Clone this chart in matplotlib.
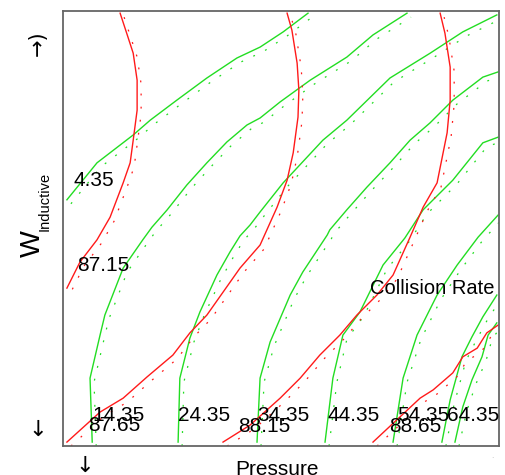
import matplotlib
matplotlib.use("Agg")
import matplotlib.pyplot as plt
from matplotlib.transforms import offset_copy

plt.rcParams['font.family'] = ['Liberation Sans', 'DejaVu Sans']

# ---- data (Pressure on x, W_Inductive on y, both 0..100) ----
# green contours (labelled levels)
g_levels = ["4.35", "14.35", "24.35", "34.35", "44.35", "54.35", "64.35", "74.35"]
g435_x = [0.9, 7.8, 16.1, 20.0, 26.1, 33.0, 39.9, 45.2, 50.5, 56.2]
g435_y = [56.6, 65.1, 71.5, 74.9, 79.5, 84.6, 89.2, 91.7, 95.2, 99.5]
g1435_x = [6.7, 6.2, 8.5, 9.6, 13.8, 18.3, 20.4, 23.9, 28.4, 33.0, 37.6, 42.2, 45.2, 49.8, 56.7, 65.1, 71.1, 78.9]
g1435_y = [0.9, 15.6, 25.5, 30.1, 40.9, 47.4, 50.3, 54.3, 60.0, 65.1, 69.9, 73.8, 75.4, 79.1, 84.1, 89.4, 94.5, 99.5]
g2435_x = [26.4, 26.8, 29.1, 31.4, 35.3, 38.3, 40.6, 42.9, 45.2, 50.5, 59.6, 65.1, 75.0, 84.2, 91.7, 99.5]
g2435_y = [0.9, 15.6, 24.8, 30.8, 39.3, 44.6, 48.3, 50.8, 53.8, 60.5, 70.3, 74.9, 84.6, 90.3, 95.2, 99.1]
g3435_x = [44.5, 45.2, 47.5, 52.1, 55.0, 60.6, 61.2, 65.1, 69.7, 75.0, 79.6, 84.2, 89.4, 96.3, 99.8]
g3435_y = [0.9, 15.6, 23.9, 34.7, 40.0, 48.5, 49.7, 54.3, 59.5, 65.1, 70.3, 74.3, 79.5, 84.8, 86.0]
g4435_x = [60.1, 61.9, 64.2, 68.1, 73.4, 78.4, 82.6, 89.4, 96.3, 99.8]
g4435_y = [0.9, 15.6, 25.5, 30.8, 41.6, 47.8, 54.3, 61.1, 69.7, 71.0]
g5435_x = [75.7, 78.0, 81.2, 85.8, 90.4, 95.2, 99.8]
g5435_y = [0.9, 15.6, 25.5, 34.7, 41.6, 48.0, 53.1]
g6435_x = [86.9, 88.8, 91.5, 93.8, 96.3, 99.5]
g6435_y = [0.9, 10.6, 20.5, 25.1, 29.7, 34.7]
g7435_x = [89.9, 91.7, 93.8, 96.1, 97.5, 99.5]
g7435_y = [0.9, 9.0, 15.2, 20.5, 25.5, 28.3]

# red contours (Collision Rate)
r_levels = ["87.15", "87.65", "88.15", "88.65"]
r8715_x = [13.1, 14.9, 16.1, 17.0, 17.0, 16.1, 15.4, 13.8, 10.8, 7.8, 3.9, 0.9]
r8715_y = [99.5, 94.0, 90.3, 84.1, 77.2, 70.3, 65.1, 60.5, 52.6, 47.4, 42.3, 36.3]
r8765_x = [0.9, 8.5, 13.8, 19.3, 25.2, 29.1, 33.0, 40.6, 45.2, 49.1, 51.4, 52.8, 53.9, 54.1, 53.7, 52.5, 51.4]
r8765_y = [0.9, 7.8, 11.0, 15.9, 20.9, 26.0, 30.1, 40.9, 46.2, 54.9, 61.1, 67.4, 75.6, 81.8, 88.0, 95.6, 99.5]
r8815_x = [36.7, 42.9, 49.8, 54.4, 58.9, 63.5, 67.4, 72.0, 75.7, 79.6, 82.6, 85.8, 88.1, 88.8, 88.8, 87.6, 86.5]
r8815_y = [0.9, 4.8, 11.0, 15.6, 20.9, 25.5, 30.1, 34.7, 39.3, 48.0, 54.9, 60.5, 72.0, 79.5, 87.1, 94.9, 99.5]
r8865_x = [71.1, 77.3, 81.9, 84.9, 89.4, 91.7, 95.0, 97.2, 99.8]
r8865_y = [0.9, 6.7, 11.0, 12.9, 16.8, 20.5, 22.5, 26.0, 27.8]

# contour label positions (left edge, vertical centre)
g_label_x = [2.3, 6.7, 26.4, 44.5, 60.6, 76.6, 88.1]
g_label_y = [61.1, 7.1, 7.1, 7.1, 7.1, 7.1, 7.1]
r_label_x = [3.2, 5.7, 40.1, 74.8]
r_label_y = [41.6, 4.6, 4.4, 4.4]

green_lines = [(g435_x, g435_y), (g1435_x, g1435_y), (g2435_x, g2435_y), (g3435_x, g3435_y),
               (g4435_x, g4435_y), (g5435_x, g5435_y), (g6435_x, g6435_y), (g7435_x, g7435_y)]
red_lines = [(r8715_x, r8715_y), (r8765_x, r8765_y), (r8815_x, r8815_y), (r8865_x, r8865_y)]

GREEN = '#22dd22'
RED = '#ff1a1a'

fig = plt.figure(figsize=(5.06, 4.75), dpi=100)
ax = fig.add_axes([63 / 506, 29 / 475, 436 / 506, 435 / 475])
ax.set_xlim(0, 100)
ax.set_ylim(0, 100)
ax.set_xticks([])
ax.set_yticks([])
for s in ax.spines.values():
    s.set_color('#666666')
    s.set_linewidth(1.3)

shifted = offset_copy(ax.transData, fig=fig, x=4, y=-4, units='dots')

for xs, ys in green_lines:
    ax.plot(xs, ys, color=GREEN, lw=1.0)
    ax.plot(xs, ys, color=GREEN, lw=0.9, dashes=(1.5, 9), transform=shifted)
for xs, ys in red_lines:
    ax.plot(xs, ys, color=RED, lw=1.0)
    ax.plot(xs, ys, color=RED, lw=0.9, dashes=(1.5, 9), transform=shifted)

for t, x, y in zip(g_levels, g_label_x, g_label_y):
    ax.text(x, y, t, fontsize=15, ha='left', va='center', color='black')
for t, x, y in zip(r_levels, r_label_x, r_label_y):
    ax.text(x, y, t, fontsize=15, ha='left', va='center', color='black')

ax.text(70.4, 36.3, "Collision Rate", fontsize=14.5, ha='left', va='center')

# axis labels and arrows
arrow_font = ['DejaVu Sans']
fig.text(33 / 506, 1 - 244 / 475, "W", fontsize=20.5, rotation=90, ha='center', va='center')
fig.text(45 / 506, 1 - 201 / 475, "Inductive", fontsize=10.5, rotation=90, ha='center', va='center')
fig.text(38 / 506, 1 - 43 / 475, "→)", fontsize=15, rotation=90, ha='center', va='center',
         family=arrow_font)
fig.text(38 / 506, 1 - 430 / 475, "↓", fontsize=16, ha='center', va='center', family=arrow_font)
fig.text(85 / 506, 1 - 466 / 475, "↓", fontsize=16, ha='center', va='center', family=arrow_font)
fig.text(277 / 506, -0.001, "Pressure", fontsize=15, ha='center', va='baseline')
fig.text(492 / 506, 1 - 459 / 475, "·", fontsize=5, color='#aaaaaa', ha='center', va='center')

fig.savefig("out.png", dpi=100)
